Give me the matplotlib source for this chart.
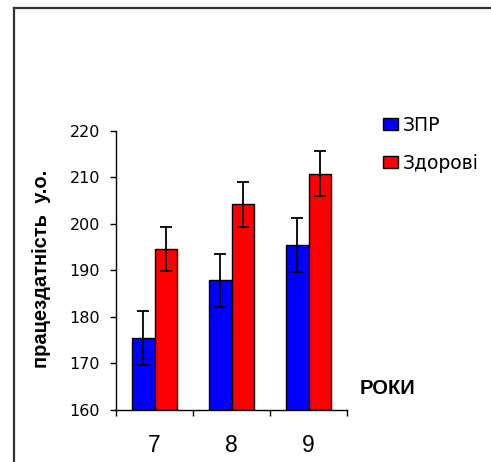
import matplotlib
matplotlib.use("Agg")
import matplotlib.pyplot as plt
from matplotlib.lines import Line2D
from matplotlib.patches import Patch
import numpy as np

categories = ["7", "8", "9"]
zpr_values = [175.4, 187.9, 195.4]
zpr_err = [5.8, 5.7, 5.8]
healthy_values = [194.6, 204.2, 210.8]
healthy_err = [4.8, 4.8, 4.8]
series_labels = ["ЗПР", "Здорові"]
y_ticks = [160, 170, 180, 190, 200, 210, 220]

plt.rcParams['font.family'] = ['Liberation Sans', 'DejaVu Sans']

fig = plt.figure(figsize=(4.91, 4.62), dpi=100)
ax = fig.add_axes([116/491, 1-410/462, (347-116)/491, (410-131)/462])

x = np.arange(len(categories))
w = 0.286
bottom = 160
ax.bar(x - w/2, np.array(zpr_values) - bottom, w, bottom=bottom, color='#0000FF',
       edgecolor='black', linewidth=1.0, zorder=2)
ax.bar(x + w/2, np.array(healthy_values) - bottom, w, bottom=bottom, color='#FF0000',
       edgecolor='black', linewidth=1.0, zorder=2)
ax.errorbar(x - w/2, zpr_values, yerr=zpr_err, fmt='none', ecolor='black',
            elinewidth=1.3, capsize=4.3, capthick=1.3, zorder=3)
ax.errorbar(x + w/2, healthy_values, yerr=healthy_err, fmt='none', ecolor='black',
            elinewidth=1.3, capsize=4.3, capthick=1.3, zorder=3)

ax.set_xlim(-0.5, 2.5)
ax.set_ylim(160, 220)
ax.set_yticks(y_ticks)
ax.set_yticklabels([str(t) for t in y_ticks], fontsize=11.5, family=['DejaVu Sans'])
ax.set_xticks(x)
ax.set_xticklabels(categories, fontsize=16.5)
ax.set_xticks([-0.5, 0.5, 1.5, 2.5], minor=True)
ax.tick_params(axis='x', which='major', length=0, pad=17)
ax.tick_params(axis='x', which='minor', length=4.5, width=1.0, direction='out')
ax.tick_params(axis='y', which='major', length=4.5, width=1.0, direction='out', pad=7)
for s in ['top', 'right']:
    ax.spines[s].set_visible(False)
for s in ['left', 'bottom']:
    ax.spines[s].set_linewidth(1.0)

ax.set_ylabel("працездатність  у.о.", fontsize=14.5, fontweight='bold')
ax.yaxis.set_label_coords(-0.282, 0.505)

fig.text(360/491, 1-388/462, "РОКИ", fontsize=14.5, fontweight='bold', ha='left', va='center')

handles = [Patch(facecolor='#0000FF', edgecolor='black', linewidth=1.0),
           Patch(facecolor='#FF0000', edgecolor='black', linewidth=1.0)]
fig.legend(handles, series_labels, loc='upper left', bbox_to_anchor=(383/491, 1-116/462),
           frameon=False, prop={'family': 'DejaVu Sans', 'size': 13.5},
           handlelength=0.8, handleheight=0.59,
           handletextpad=0.27, labelspacing=1.0, borderpad=0, borderaxespad=0)

fig.add_artist(Line2D([14/491, 14/491], [0, 1-8/462], color='#333333', linewidth=1.6,
                      transform=fig.transFigure))
fig.add_artist(Line2D([14/491, 1], [1-8/462, 1-8/462], color='#333333', linewidth=1.6,
                      transform=fig.transFigure))

fig.savefig("out.png", dpi=100)
